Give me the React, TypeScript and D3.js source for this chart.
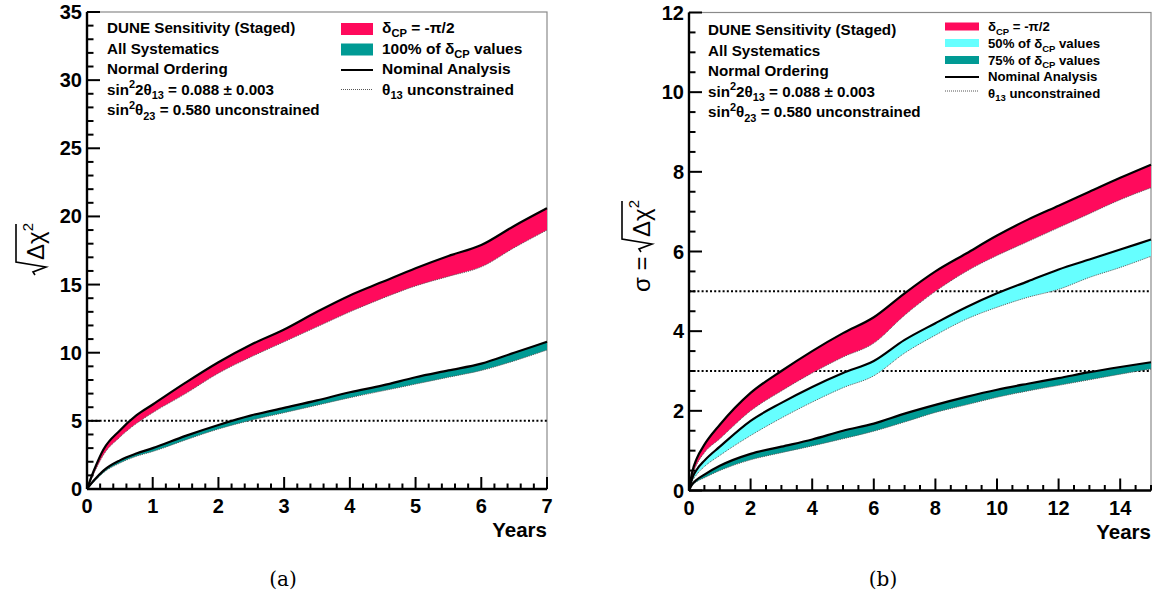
import React from 'react';
import * as d3 from 'd3';

// ---------- data (a) ----------
const leftYears = [0, 0.1, 0.25, 0.5, 0.75, 1, 1.5, 2, 2.5, 3, 3.5, 4, 4.5, 5, 5.5, 6, 6.5, 7];
const leftRedTop = [0, 1.3, 2.9, 4.3, 5.4, 6.2, 7.8, 9.3, 10.6, 11.7, 13.0, 14.2, 15.2, 16.2, 17.1, 17.9, 19.3, 20.6];
const leftRedBottom = [0, 1.1, 2.5, 3.8, 4.8, 5.6, 7.0, 8.5, 9.7, 10.8, 11.9, 13.0, 14.0, 14.9, 15.6, 16.3, 17.7, 19.0];
const leftTealTop = [0, 0.6, 1.35, 2.1, 2.6, 3.0, 3.9, 4.7, 5.4, 5.95, 6.5, 7.1, 7.6, 8.2, 8.7, 9.2, 10.0, 10.8];
const leftTealBottom = [0, 0.5, 1.2, 1.9, 2.4, 2.75, 3.6, 4.4, 5.05, 5.6, 6.15, 6.7, 7.2, 7.7, 8.2, 8.7, 9.4, 10.2];
const leftXTicks = [0, 1, 2, 3, 4, 5, 6, 7];
const leftYTicks = [0, 5, 10, 15, 20, 25, 30, 35];
const leftRefLines = [5];

// ---------- data (b) ----------
const rightYears = [0, 0.1, 0.25, 0.5, 1, 2, 3, 4, 5, 6, 7, 8, 9, 10, 11, 12, 13, 14, 15];
const rightRedTop = [0, 0.45, 0.8, 1.15, 1.65, 2.45, 3.0, 3.5, 3.95, 4.35, 4.95, 5.5, 5.95, 6.4, 6.8, 7.15, 7.5, 7.85, 8.18];
const rightRedBottom = [0, 0.35, 0.65, 0.95, 1.3, 2.0, 2.5, 2.95, 3.35, 3.7, 4.4, 5.0, 5.5, 5.9, 6.25, 6.6, 6.95, 7.3, 7.6];
const rightCyanTop = [0, 0.3, 0.52, 0.75, 1.1, 1.75, 2.2, 2.6, 2.95, 3.25, 3.78, 4.2, 4.6, 4.95, 5.25, 5.55, 5.8, 6.05, 6.3];
const rightCyanBottom = [0, 0.22, 0.4, 0.6, 0.88, 1.38, 1.82, 2.22, 2.58, 2.88, 3.45, 3.9, 4.3, 4.6, 4.85, 5.05, 5.35, 5.6, 5.88];
const rightTealTop = [0, 0.15, 0.27, 0.4, 0.62, 0.92, 1.1, 1.28, 1.5, 1.68, 1.93, 2.15, 2.35, 2.53, 2.68, 2.82, 2.97, 3.1, 3.22];
const rightTealBottom = [0, 0.12, 0.22, 0.32, 0.5, 0.77, 0.95, 1.12, 1.3, 1.49, 1.72, 1.96, 2.15, 2.34, 2.5, 2.64, 2.78, 2.92, 3.05];
const rightXTicks = [0, 2, 4, 6, 8, 10, 12, 14];
const rightYTicks = [0, 2, 4, 6, 8, 10, 12];
const rightRefLines = [3, 5];

const RED = '#ff0a5c';
const TEAL = '#009a94';
const CYAN = '#66ffff';
const SANS = '"Liberation Sans", Arial, Helvetica, sans-serif';

type Part = [string, 'n' | 'sup' | 'sub'];

function Rich({ x, y, size, parts, anchor = 'start', weight = 'bold' }: { x: number; y: number; size: number; parts: Part[]; anchor?: string; weight?: string }) {
  let cur = 0;
  const spans = parts.map((p, i) => {
    const target = p[1] === 'sup' ? -0.42 * size : p[1] === 'sub' ? 0.28 * size : 0;
    const dy = target - cur;
    cur = target;
    return (
      <tspan key={i} dy={dy} fontSize={p[1] === 'n' ? size : size * 0.72}>
        {p[0]}
      </tspan>
    );
  });
  return (
    <text x={x} y={y} fontFamily={SANS} fontWeight={weight} fontSize={size} textAnchor={anchor} fill="#000">
      {spans}
    </text>
  );
}

type Band = { top: number[]; bottom: number[]; color: string };

function Panel({
  x0, x1, yTop, yBot, xMax, yMax, xTicks, yTicks, xMinorStep, yMinorStep, years, bands, refLines,
}: {
  x0: number; x1: number; yTop: number; yBot: number; xMax: number; yMax: number;
  xTicks: number[]; yTicks: number[]; xMinorStep: number; yMinorStep: number; years: number[]; bands: Band[]; refLines: number[];
}) {
  const xs = d3.scaleLinear().domain([0, xMax]).range([x0, x1]);
  const ys = d3.scaleLinear().domain([0, yMax]).range([yBot, yTop]);
  const area = (b: Band) =>
    d3.area<number>().x((d, i) => xs(years[i])).y0((d, i) => ys(b.bottom[i])).y1((d, i) => ys(b.top[i])).curve(d3.curveMonotoneX)(years) || '';
  const line = (arr: number[]) =>
    d3.line<number>().x((d, i) => xs(years[i])).y((d, i) => ys(arr[i])).curve(d3.curveMonotoneX)(years) || '';
  const xMinor = d3.range(0, xMax + 1e-9, xMinorStep);
  const yMinor = d3.range(0, yMax + 1e-9, yMinorStep);
  return (
    <g>
      <rect x={x0} y={yTop} width={x1 - x0} height={yBot - yTop} fill="none" stroke="#8a8a8a" strokeWidth={1.2} />
      {refLines.map((r) => (
        <line key={r} x1={x0} x2={x1} y1={ys(r)} y2={ys(r)} stroke="#000" strokeWidth={2} strokeDasharray="2,2.2" />
      ))}
      {bands.map((b, i) => (
        <g key={i}>
          <path d={area(b)} fill={b.color} />
          <path d={line(b.bottom)} fill="none" stroke="#555" strokeWidth={1} strokeDasharray="1,1" />
          <path d={line(b.top)} fill="none" stroke="#000" strokeWidth={2.2} />
        </g>
      ))}
      {/* axes */}
      <line x1={x0} x2={x0} y1={yTop} y2={yBot} stroke="#000" strokeWidth={2.4} />
      <line x1={x0} x2={x1} y1={yBot} y2={yBot} stroke="#000" strokeWidth={2.4} />
      {yMinor.map((v) => {
        const major = yTicks.some((t) => Math.abs(t - v) < 1e-6);
        return <line key={'ym' + v} x1={x0} x2={x0 + (major ? 13 : 6.5)} y1={ys(v)} y2={ys(v)} stroke="#000" strokeWidth={2} />;
      })}
      {xMinor.map((v) => {
        const major = xTicks.some((t) => Math.abs(t - v) < 1e-6);
        return <line key={'xm' + v} x1={xs(v)} x2={xs(v)} y1={yBot} y2={yBot - (major ? 12 : 5.5)} stroke="#000" strokeWidth={2} />;
      })}
      {yTicks.map((t) => (
        <text key={'yl' + t} x={x0 - 5} y={ys(t) + 7} textAnchor="end" fontFamily={SANS} fontWeight="bold" fontSize={20}>
          {t}
        </text>
      ))}
      {xTicks.map((t) => (
        <text key={'xl' + t} x={xs(t)} y={yBot + 24} textAnchor="middle" fontFamily={SANS} fontWeight="bold" fontSize={20}>
          {t}
        </text>
      ))}
      <text x={x1} y={yBot + 48} textAnchor="end" fontFamily={SANS} fontWeight="bold" fontSize={20.5}>
        Years
      </text>
    </g>
  );
}

const infoLines: Part[][] = [
  [['DUNE Sensitivity (Staged)', 'n']],
  [['All Systematics', 'n']],
  [['Normal Ordering', 'n']],
  [['sin', 'n'], ['2', 'sup'], ['2θ', 'n'], ['13', 'sub'], [' = 0.088 ± 0.003', 'n']],
  [['sin', 'n'], ['2', 'sup'], ['θ', 'n'], ['23', 'sub'], [' = 0.580 unconstrained', 'n']],
];

function Info({ x, y }: { x: number; y: number }) {
  return (
    <g>
      {infoLines.map((l, i) => (
        <Rich key={i} x={x} y={y + i * 20.6} size={15.2} parts={l} />
      ))}
    </g>
  );
}

function RadicalLabel({ cx, cy, prefix }: { cx: number; cy: number; prefix: boolean }) {
  const fs = 24;
  const start = prefix ? -41 : -25;
  const r0 = prefix ? start + 40 : start;
  return (
    <g transform={`translate(${cx},${cy}) rotate(-90)`}>
      {prefix && (
        <text x={start} y={0} fontFamily={SANS} fontSize={fs}>
          σ =
        </text>
      )}
      <path
        d={`M ${r0},-9 L ${r0 + 3},-11 L ${r0 + 8},2 L ${r0 + 13},-28 L ${r0 + 51},-28`}
        fill="none"
        stroke="#000"
        strokeWidth={1.6}
      />
      <text x={r0 + 15} y={0} fontFamily={SANS} fontSize={fs}>
        Δχ<tspan dy={-11} fontSize={15}>2</tspan>
      </text>
    </g>
  );
}

export default function App() {
  const L = { x0: 87, x1: 547, yTop: 12, yBot: 489 };
  const R = { x0: 689, x1: 1151, yTop: 12.5, yBot: 490.5 };
  return (
    <svg width={1165} height={602} style={{ position: 'absolute', left: 0, top: 0, background: '#fff' }}>
      <Panel
        {...L}
        xMax={7}
        yMax={35}
        xTicks={leftXTicks}
        yTicks={leftYTicks}
        xMinorStep={0.2}
        yMinorStep={1}
        years={leftYears}
        refLines={leftRefLines}
        bands={[
          { top: leftRedTop, bottom: leftRedBottom, color: RED },
          { top: leftTealTop, bottom: leftTealBottom, color: TEAL },
        ]}
      />
      <Panel
        {...R}
        xMax={15}
        yMax={12}
        xTicks={rightXTicks}
        yTicks={rightYTicks}
        xMinorStep={0.5}
        yMinorStep={0.5}
        years={rightYears}
        refLines={rightRefLines}
        bands={[
          { top: rightRedTop, bottom: rightRedBottom, color: RED },
          { top: rightCyanTop, bottom: rightCyanBottom, color: CYAN },
          { top: rightTealTop, bottom: rightTealBottom, color: TEAL },
        ]}
      />
      {/* info text */}
      <Info x={107} y={33} />
      <Info x={708} y={35} />
      {/* legend (a) */}
      <rect x={341} y={23} width={32} height={12} fill={RED} />
      <rect x={341} y={43.5} width={32} height={12} fill={TEAL} />
      <line x1={341} x2={373} y1={70} y2={70} stroke="#000" strokeWidth={2} />
      <line x1={341} x2={373} y1={89.5} y2={89.5} stroke="#555" strokeWidth={1} strokeDasharray="1,1" />
      <Rich x={382} y={33} size={15.5} parts={[['δ', 'n'], ['CP', 'sub'], [' = -π/2', 'n']]} />
      <Rich x={382} y={53.6} size={15.5} parts={[['100% of δ', 'n'], ['CP', 'sub'], [' values', 'n']]} />
      <Rich x={382} y={74.2} size={15.5} parts={[['Nominal Analysis', 'n']]} />
      <Rich x={382} y={94.8} size={15.5} parts={[['θ', 'n'], ['13', 'sub'], [' unconstrained', 'n']]} />
      {/* legend (b) */}
      <rect x={945} y={22.5} width={34} height={8} fill={RED} />
      <rect x={945} y={39} width={34} height={8} fill={CYAN} />
      <rect x={945} y={56} width={34} height={8} fill={TEAL} />
      <line x1={945} x2={979} y1={77} y2={77} stroke="#000" strokeWidth={2} />
      <line x1={945} x2={979} y1={91} y2={91} stroke="#555" strokeWidth={1} strokeDasharray="1,1" />
      <Rich x={988} y={31} size={13.2} parts={[['δ', 'n'], ['CP', 'sub'], [' = -π/2', 'n']]} />
      <Rich x={988} y={48} size={13.2} parts={[['50% of δ', 'n'], ['CP', 'sub'], [' values', 'n']]} />
      <Rich x={988} y={64.5} size={13.2} parts={[['75% of δ', 'n'], ['CP', 'sub'], [' values', 'n']]} />
      <Rich x={988} y={81} size={13.2} parts={[['Nominal Analysis', 'n']]} />
      <Rich x={988} y={97.5} size={13.2} parts={[['θ', 'n'], ['13', 'sub'], [' unconstrained', 'n']]} />
      {/* y labels */}
      <RadicalLabel cx={44} cy={250} prefix={false} />
      <RadicalLabel cx={650} cy={251} prefix={true} />
      {/* captions */}
      <text x={283} y={586} textAnchor="middle" fontFamily='"DejaVu Serif", "Liberation Serif", serif' fontSize={20}>
        (a)
      </text>
      <text x={883} y={586} textAnchor="middle" fontFamily='"DejaVu Serif", "Liberation Serif", serif' fontSize={20}>
        (b)
      </text>
    </svg>
  );
}
